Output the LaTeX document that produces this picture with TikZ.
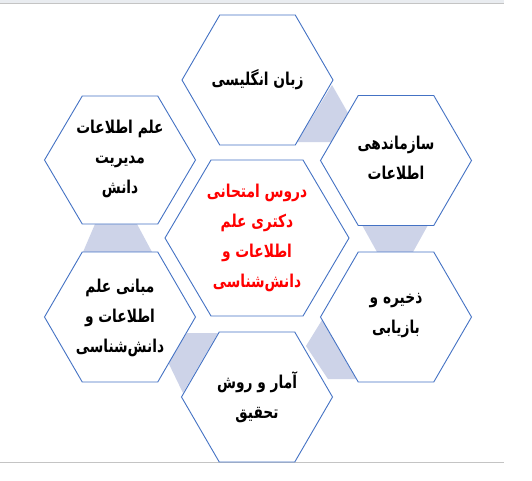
\documentclass[tikz,border=0pt]{standalone}
\usepackage{graphicx}
\usepackage{fontspec}
\newfontfamily\arabicfont[Script=Arabic]{DejaVu Sans}
\TeXXeTstate=1
\definecolor{hexblue}{HTML}{4472C4}
\definecolor{linkfill}{HTML}{CDD3E8}
\definecolor{bandgray}{HTML}{E9ECF0}
\definecolor{rulegray}{HTML}{C4C4C4}
\definecolor{titlered}{HTML}{FF0000}
\newcommand{\mkhex}[4]{%
  \draw[hexline] (#1-#3,#2) -- (#1-#3/2,#2-#4) -- (#1+#3/2,#2-#4) -- (#1+#3,#2)
    -- (#1+#3/2,#2+#4) -- (#1-#3/2,#2+#4) -- cycle;}
\newcommand{\rl}[1]{\scalebox{0.95}[1.22]{\beginR #1\endR}}
\tikzset{
  hexline/.style={draw=hexblue, line width=0.9pt, fill=white, line join=miter},
  linkshape/.style={fill=linkfill, draw=none},
  label/.style={font=\arabicfont\bfseries\fontsize{14.5}{30}\selectfont, align=center, text=black, inner sep=0pt},
  redlabel/.style={label, text=titlered}
}
\begin{document}
\begin{tikzpicture}[x=1pt,y=-1pt]
\useasboundingbox (0,0) rectangle (532,480);
\fill[white] (0,0) rectangle (532,480);
% top band and bottom rule
\fill[bandgray] (0,0) rectangle (504,3);
\draw[rulegray, line width=1.2pt] (0,3.6) -- (504,3.6);
\draw[rulegray, line width=1.4pt] (0,462.5) -- (504,462.5);
% connectors
\fill[linkshape] (332,85) -- (348,113) -- (331,142) -- (297,142) -- cycle;
\fill[linkshape] (362,225) -- (428,225) -- (413,252) -- (377,252) -- cycle;
\fill[linkshape] (322,320) -- (306,346) -- (328,379) -- (356,379) -- cycle;
\fill[linkshape] (187,333) -- (218,333) -- (183,393) -- (168,362) -- cycle;
\fill[linkshape] (95,224) -- (137,224) -- (152,252) -- (83,252) -- cycle;
% hexagons
\mkhex{257.5}{80}{75.5}{65}
\mkhex{396}{160.5}{75.5}{65}
\mkhex{396}{317}{75.5}{65}
\mkhex{257}{397}{75.5}{65}
\mkhex{120}{317}{75.5}{65}
\mkhex{120}{160}{75.5}{64}
\mkhex{257}{238}{92}{78}
% labels
\node[label] (top) at (257.5,80) {\rl{زبان انگلیسی}};
\node[label] (tr) at (396,158) {\rl{سازماندهی}\\\rl{اطلاعات}};
\node[label] (br) at (396,316) {\rl{ذخیره و}\\\rl{بازیابی}};
\node[label] (bot) at (257,397) {\rl{آمار و روش}\\\rl{تحقیق}};
\node[label] (bl) at (120,318) {\rl{مبانی علم}\\\rl{اطلاعات و}\\\rl{دانش‌شناسی}};
\node[label] (tl) at (120,159) {\rl{علم اطلاعات}\\\rl{مدیریت}\\\rl{دانش}};
\node[redlabel] (mid) at (257,238) {\rl{دروس امتحانی}\\\rl{دکتری علم}\\\rl{اطلاعات و}\\\rl{دانش‌شناسی}};
\end{tikzpicture}
\end{document}
